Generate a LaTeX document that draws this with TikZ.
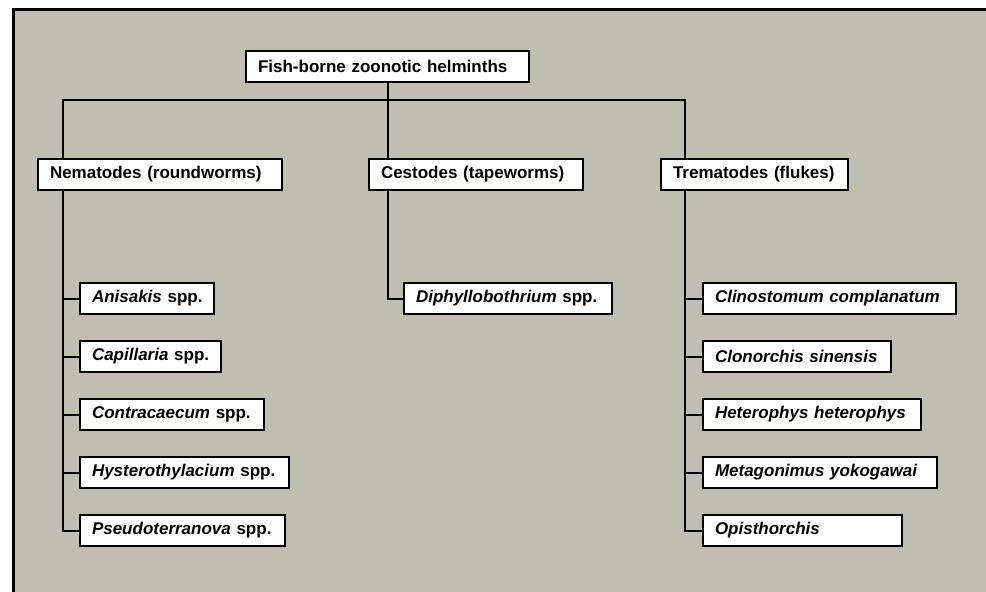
\documentclass[tikz,border=0pt]{standalone}
\usepackage{fontspec}
\setmainfont{Liberation Sans}
\usepackage{xcolor}
\usepackage{tikz}
\usetikzlibrary{positioning}

\definecolor{panelgray}{RGB}{192,190,177}

\begin{document}
\begin{tikzpicture}[
  x=1pt, y=1pt,
  node distance = 25pt and 17pt,
  box/.style = {
    rectangle, draw=black, line width=2pt, fill=white,
    inner xsep=10pt, minimum height=31pt, align=left,
    anchor=north west, font=\fontsize{17}{20}\selectfont\bfseries
  },
  leaf/.style = {box, text width=#1},
  conn/.style = {line width=2pt, black}
]

\useasboundingbox (0,0) rectangle (986,-592);
\draw[line width=3pt, fill=panelgray] (13,-9) rectangle (1000,-610);

%% ---- root and the three groups ----
\node[leaf=263pt] (root) at (245,-50) {\hspace*{2pt}Fish-borne zoonotic helminths};
\node[leaf=224pt] (nem) at (37,-158) {\hspace*{2pt}Nematodes (roundworms)};
\node[leaf=194pt] (ces) at (368,-158) {\hspace*{2pt}Cestodes (tapeworms)};
\node[leaf=167pt] (tre) at (660,-158) {\hspace*{2pt}Trematodes (flukes)};

\draw[conn] ([xshift=26pt]nem.north west) -- ++(0,58) -| ([xshift=25pt]tre.north west);
\draw[conn] (root.south) -- (root.south |- ces.north);

%% ---- Nematodes ----
\node[leaf=114pt] (n1) at (79,-282) {\hspace*{2pt}\textit{Anisakis} spp.};
\node[leaf=121pt, below=of n1.south west, anchor=north west] (n2) {\hspace*{2pt}\textit{Capillaria} spp.};
\node[leaf=164pt, below=of n2.south west, anchor=north west] (n3) {\hspace*{2pt}\textit{Contracaecum} spp.};
\node[leaf=189pt, below=of n3.south west, anchor=north west] (n4) {\hspace*{2pt}\textit{Hysterothylacium} spp.};
\node[leaf=185pt, below=of n4.south west, anchor=north west] (n5) {\hspace*{2pt}\textit{Pseudoterranova} spp.};

\coordinate (nspine) at ([xshift=26pt]nem.south west);
\draw[conn] (nspine) |- (n5.west);
\foreach \i in {1,...,4}
  \draw[conn] (n\i.west) -- (n\i.west -| nspine);

%% ---- Cestodes ----
\node[leaf=188pt] (d1) at (403,-282) {\hspace*{2pt}\textit{Diphyllobothrium} spp.};

\coordinate (cspine) at (root.south |- ces.south);
\draw[conn] (cspine) |- (d1.west);

%% ---- Trematodes ----
\node[leaf=233pt] (t1) at (702,-282) {\hspace*{2pt}\textit{Clinostomum complanatum}};
\node[leaf=168pt, below=of t1.south west, anchor=north west] (t2) {\hspace*{2pt}\textit{Clonorchis sinensis}};
\node[leaf=198pt, below=of t2.south west, anchor=north west] (t3) {\hspace*{2pt}\textit{Heterophys heterophys}};
\node[leaf=214pt, below=of t3.south west, anchor=north west] (t4) {\hspace*{2pt}\textit{Metagonimus yokogawai}};
\node[leaf=179pt, below=of t4.south west, anchor=north west] (t5) {\hspace*{2pt}\textit{Opisthorchis}};

\coordinate (tspine) at ([xshift=25pt]tre.south west);
\draw[conn] (tspine) |- (t5.west);
\foreach \i in {1,...,4}
  \draw[conn] (t\i.west) -- (t\i.west -| tspine);

\end{tikzpicture}
\end{document}
